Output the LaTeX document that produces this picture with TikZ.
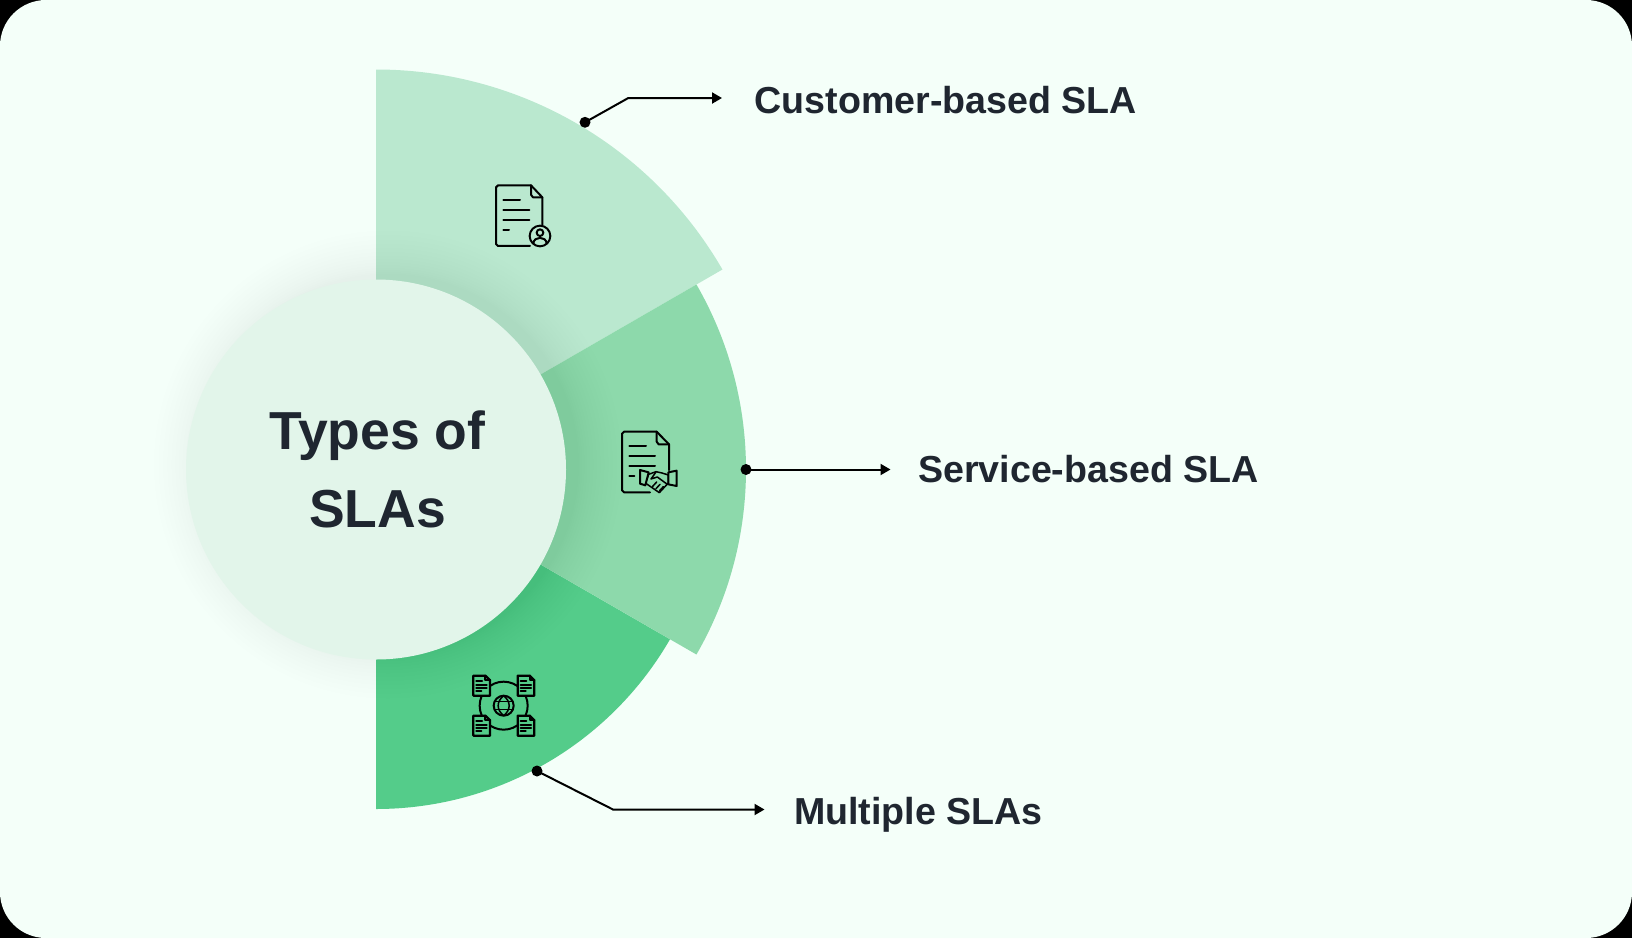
\documentclass[tikz,border=0pt]{standalone}
\usepackage{fontspec}
\setmainfont{Liberation Sans}
\usetikzlibrary{arrows.meta}
\definecolor{pagebg}{HTML}{F4FFF9}
\definecolor{secA}{HTML}{BAE8CF}
\definecolor{secB}{HTML}{8DD9AB}
\definecolor{secC}{HTML}{54CC8A}
\definecolor{hub}{HTML}{E2F5EA}
\definecolor{ink}{HTML}{1F2630}
\definecolor{shadowc}{HTML}{1C4A33}
\tikzset{
  sector/.style={draw=none},
  dotnode/.style={circle,fill=black,inner sep=0pt,minimum size=11pt},
  lead/.style={draw=black,line width=2pt,-{Triangle[length=10pt,width=11pt]}},
  lab/.style={font=\bfseries\fontsize{37.6}{38}\selectfont,text=ink,anchor=west,inner sep=0pt},
  title/.style={font=\bfseries\fontsize{53.5}{78}\selectfont,text=ink,align=center,inner sep=0pt},
  icon/.style={draw=black,line width=2pt,line join=round,line cap=round},
  iconT/.style={draw=black,line width=1.5pt,line join=round,line cap=round},
  iconB/.style={draw=black,line width=2.3pt,line join=round,line cap=round},
  minidoc/.pic={
    \path[iconB,fill=secC] (0,0) -- (36,0) -- (50,14) -- (50,60) -- (0,60) -- cycle;
    \draw[iconB] (36,0) -- (36,14) -- (50,14);
    \draw[iconB] (9,15) -- (26,15) (9,27) -- (40,27) (9,37) -- (40,37) (9,47) -- (24,47);
  }
}
\begin{document}
\begin{tikzpicture}[x=1pt,y=1pt]
\useasboundingbox (0,0) rectangle (1632,-938);
\fill[black] (0,0) rectangle (1632,-938);
\fill[pagebg,rounded corners=46pt] (0,0) rectangle (1632,-938);
\begin{scope}[shift={(376,-469.5)}]
  \fill[secA,sector] (90:400) arc[start angle=90,end angle=30,radius=400] -- (0,0) -- cycle;
  \fill[secC,sector] (-30:339.5) arc[start angle=-30,end angle=-90,radius=339.5] -- (0,0) -- cycle;
  \fill[secB,sector] (30:370) arc[start angle=30,end angle=-30,radius=370] -- (0,0) -- cycle;
  \foreach \i in {1,...,14}{
    \pgfmathsetmacro{\rr}{190+44*(\i/14)^1.5}
    \fill[shadowc,opacity=.0055] (12,5) circle[radius=\rr];
  }
  \fill[hub] (0,0) circle[radius=190];
\end{scope}
\node[title] (hubtext) at (377.5,-469) {Types of\\SLAs};
% icon: customer document
\begin{scope}[shift={(470,-160)},x=.3333pt,y=-.3333pt]
  \draw[icon] (183,76) -- (84,76) -- ++(-6,6) -- (78,252) -- ++(6,6) -- (180,258);
  \draw[icon] (183,76) -- (217,112) -- (217,196);
  \draw[icon] (183,76) -- (183,104) -- ++(6,8) -- (217,112);
  \draw[icon] (100,120) -- (150,120) (100,150) -- (178,150) (100,180) -- (178,180) (100,210) -- (117,210);
  \draw[icon,fill=secA] (210,228) circle[radius=31];
  \draw[icon] (210,218) circle[radius=10];
  \draw[icon] (190,250) .. controls (192,228) and (228,228) .. (230,250);
\end{scope}
% icon: service document with handshake
\begin{scope}[shift={(600,-415)},x=.3333pt,y=-.3333pt]
  \draw[icon] (170,50) -- (72,50) -- ++(-6,6) -- (66,226) -- ++(6,6) -- (150,232);
  \draw[icon] (170,50) -- (207,88) -- (207,165);
  \draw[icon] (170,50) -- (170,80) -- ++(6,8) -- (207,88);
  \draw[icon] (88,92) -- (138,92) (88,122) -- (165,122) (88,152) -- (165,152) (88,182) -- (103,182);
  \draw[iconT,fill=secB] (146,178) -- (168,170) -- (186,174) -- (205,180) -- (205,204) -- (178,233) -- (136,204) -- cycle;
  \draw[icon,fill=secB] (120,165) -- (146,172) -- (136,211) -- (120,206) -- cycle;
  \draw[icon,fill=secB] (205,172) -- (230,167) -- (230,213) -- (205,208) -- cycle;
  \draw[iconT] (168,171) -- (153,192) -- (172,186) -- (202,208);
  \draw[iconT] (158,214) -- (170,201) (168,221) -- (180,208) (178,228) -- (190,215);
\end{scope}
% icon: multiple documents with globe
\begin{scope}[shift={(455,-660)},x=.3333pt,y=-.3333pt]
  \draw[icon] (146,137) circle[radius=72];
  \draw[icon] (146,137) circle[radius=30];
  \draw[iconT] (146,107) .. controls (124,125) and (124,149) .. (146,167);
  \draw[iconT] (146,107) .. controls (168,125) and (168,149) .. (146,167);
  \draw[iconT] (120,125) -- (172,125) (120,149) -- (172,149);
  \pic at (55,47) {minidoc};
  \pic at (188,47) {minidoc};
  \pic at (55,167) {minidoc};
  \pic at (188,167) {minidoc};
\end{scope}
% connectors
\node[dotnode] (dotA) at (585,-122.3) {};
\node[dotnode] (dotB) at (746,-469.5) {};
\node[dotnode] (dotC) at (537,-771) {};
\coordinate (bendA) at (628.3,-98);
\coordinate (bendC) at (613,-809.5);
\coordinate (tipA) at (722,-98);
\coordinate (tipB) at (890.5,-469.5);
\coordinate (tipC) at (764.5,-809.5);
\draw[lead] (dotA.center) -- (bendA) -- (tipA);
\draw[lead] (dotB.center) -- (tipB);
\draw[lead] (dotC.center) -- (bendC) -- (tipC);
\node[lab] (labA) at (754.5,-100) {Customer-based SLA};
\node[lab] (labB) at (918,-469.5) {Service-based SLA};
\node[lab] (labC) at (794,-815) {Multiple SLAs};
\end{tikzpicture}
\end{document}
